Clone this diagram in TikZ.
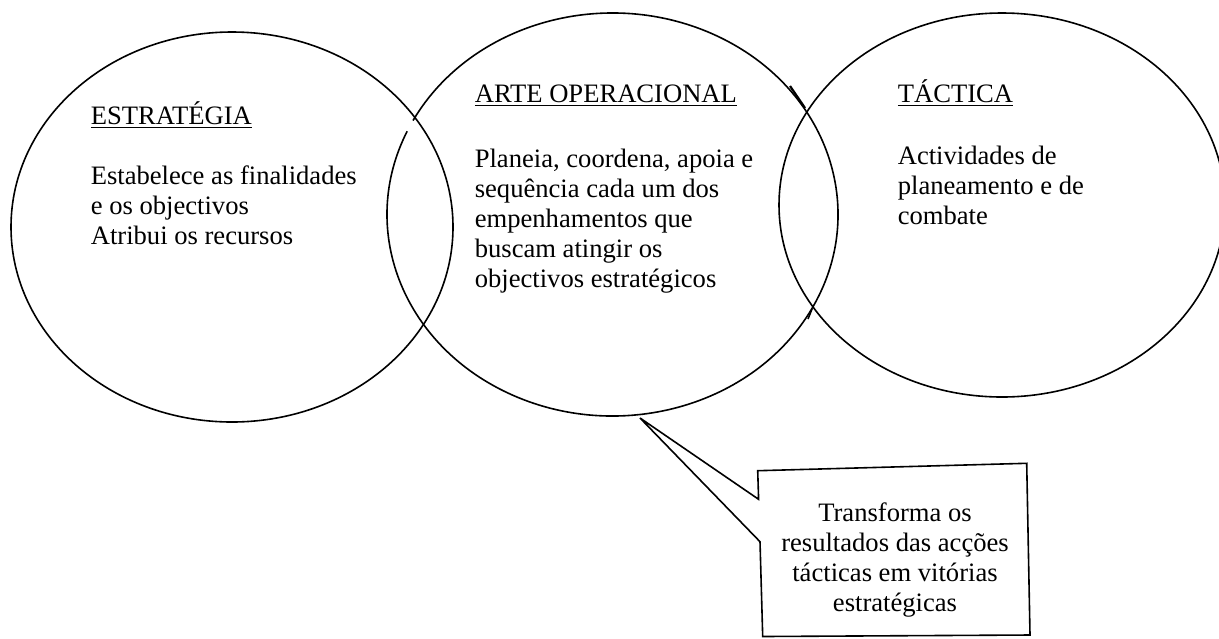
\documentclass[tikz,border=0pt]{standalone}
\usepackage{fontspec}
\setmainfont{Liberation Serif}
\begin{document}
\begin{tikzpicture}[x=0.5pt, y=-0.5pt, line width=0.8pt,
        txt/.style={inner sep=0pt, align=left, anchor=base west, font=\fontsize{13.3}{15}\selectfont},
        balloon/.style={draw, line join=miter, fill=white}]
        \useasboundingbox (0,0) rectangle (1219,638);

        \coordinate (cEstr) at (232,227);
        \coordinate (cArte) at (612.5,214.5);
        \coordinate (cTact) at (1002,205);

        \draw (cEstr) ellipse [x radius=221, y radius=195];
        \draw ([shift={(207.8:225.5 and 201.5)}]cArte) arc [start angle=207.8, end angle=564.4, x radius=225.5, y radius=201.5];
        \draw (cTact) ellipse [x radius=223, y radius=192];
        \draw[line width=1.1pt] (790,86) -- (805,108);
        \draw (812,309) -- (808,319);

        % base anchor of a multi-line node sits on its last line
        \node[txt] (estrategia) at (90,244) {\underline{ESTRATÉGIA}\\[15pt]
            Estabelece as finalidades\\e os objectivos\\Atribui os recursos};
        \node[txt] (arte) at (474,287) {\underline{ARTE OPERACIONAL}\\[17.5pt]
            Planeia, coordena, apoia e\\sequência cada um dos\\empenhamentos que\\buscam atingir os\\objectivos estratégicos};
        \node[txt] (tactica) at (897,224) {\underline{TÁCTICA}\\[16pt]
            Actividades de\\planeamento e de\\combate};

        \coordinate (tip) at (640,418);
        \draw[balloon] (757.7,470.7) -- (1026.7,463.3) -- (1030,635) -- (762.7,636.5)
            -- (760,541.7) -- (tip) -- (758.6,499.3) -- cycle;
        \node[txt, align=center, anchor=base] (transforma) at (895,611)
            {Transforma os\\resultados das acções\\tácticas em vitórias\\estratégicas};
\end{tikzpicture}
\end{document}
